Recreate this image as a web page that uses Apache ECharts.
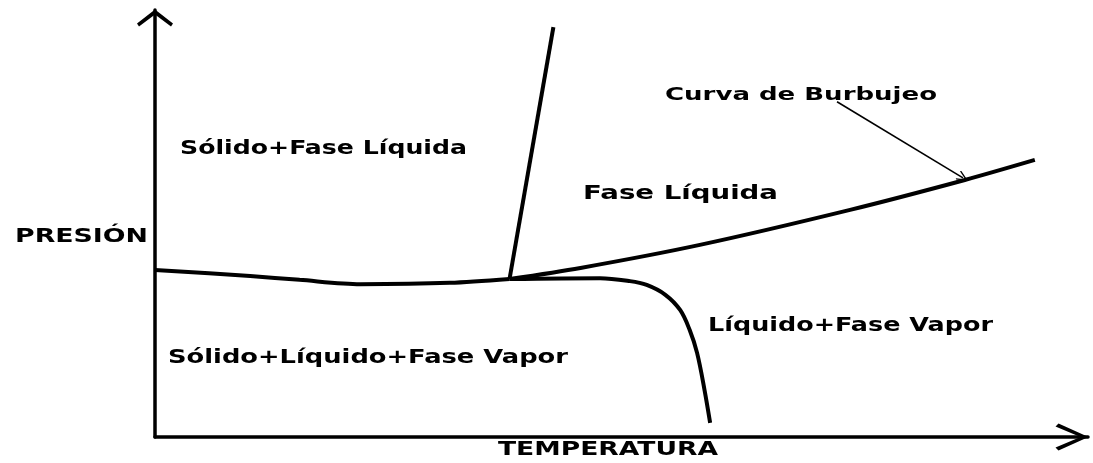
<!DOCTYPE html>
<html>
<head>
<meta charset="utf-8">
<script src="https://cdn.jsdelivr.net/npm/echarts@6/dist/echarts.min.js"></script>
<style>
  html, body { margin: 0; padding: 0; background: #fff; }
  #main { width: 1093px; height: 463px; }
</style>
</head>
<body>
<div id="main"></div>
<script>
// curvas del diagrama [temperatura, presion] (escala 0-100)
const curvaInferior = [[0, 39.1], [10.2, 37.7], [15.5, 36.8], [22.0, 35.8], [31.6, 36.1], [38.0, 37.0]];
const curvaSolidoLiquido = [[38.0, 37.0], [42.7, 96.0]];
const curvaBurbujeo = [[38.0, 37.0], [45.6, 39.6], [58.4, 45.0], [74.5, 53.2], [86.8, 60.2], [94.3, 64.9]];
const curvaVapor = [[38.0, 37.0], [47.7, 37.2], [50.9, 36.5], [52.7, 35.6], [54.7, 33.3], [56.3, 29.7],
  [57.3, 25.1], [58.1, 19.7], [58.9, 11.0], [59.5, 3.3]];
const flechaBurbujeo = [[73.1, 78.5], [86.6, 60.7]];

// textos: [texto, x izq, y centro, ancho, tamaño]
const etiquetas = [
  ['Curva de Burbujeo', 665, 95, 272, 18],
  ['Sólido+Fase Líquida', 180, 149, 287, 19],
  ['Fase Líquida', 583, 194, 195, 19],
  ['PRESIÓN', 15, 237, 133, 20],
  ['Líquido+Fase Vapor', 708, 326, 285, 19],
  ['Sólido+Líquido+Fase Vapor', 168, 358, 400, 19],
  ['TEMPERATURA', 498, 450, 220, 19]
];

const ctx = document.createElement('canvas').getContext('2d');
function escala(txt, size, ancho) {
  ctx.font = 'bold ' + size + 'px "DejaVu Sans"';
  return ancho / ctx.measureText(txt).width;
}

const flechaArriba = 'path://M18,0 L36,14 L34,17 L18,5 L2,17 L0,14 Z';
const flechaDerecha = 'path://M13.5,0 L27,30 L24,33 L13.5,8 L3,33 L0,30 Z';

const linea = { color: '#000', width: 4 };

const chart = echarts.init(document.getElementById('main'));
chart.setOption({
  animation: false,
  backgroundColor: '#fff',
  grid: { left: 155, right: 5, top: 10, bottom: 26 },
  xAxis: {
    type: 'value', min: 0, max: 100,
    splitLine: { show: false }, axisTick: { show: false }, axisLabel: { show: false },
    axisLine: { onZero: false, symbol: ['none', flechaDerecha], symbolSize: [27, 33], symbolOffset: [0, -16], lineStyle: { color: '#000', width: 3.5 } }
  },
  yAxis: {
    type: 'value', min: 0, max: 100,
    splitLine: { show: false }, axisTick: { show: false }, axisLabel: { show: false },
    axisLine: { show: true, onZero: false, symbol: ['none', flechaArriba], symbolSize: [36, 17], symbolOffset: [0, -8], lineStyle: { color: '#000', width: 3.5 } }
  },
  series: [
    { type: 'line', data: curvaInferior, showSymbol: false, smooth: 0.3, lineStyle: linea },
    { type: 'line', data: curvaSolidoLiquido, showSymbol: false, lineStyle: linea },
    {
      type: 'line', data: curvaBurbujeo, showSymbol: false, smooth: 0.3, lineStyle: linea,
      markLine: {
        silent: true,
        symbol: ['none', 'path://M0,0 L5,10 L4,11 L0,3 L-4,11 L-5,10 Z'],
        symbolSize: [10, 12],
        label: { show: false },
        lineStyle: { color: '#000', width: 1.6, type: 'solid' },
        data: [[{ coord: flechaBurbujeo[0] }, { coord: flechaBurbujeo[1] }]]
      }
    },
    { type: 'line', data: curvaVapor, showSymbol: false, smooth: 0.35, lineStyle: linea }
  ],
  graphic: etiquetas.map(function (e) {
    return {
      type: 'text', x: e[1], y: e[2], scaleX: escala(e[0], e[4], e[3]),
      style: { text: e[0], font: 'bold ' + e[4] + 'px "DejaVu Sans"', fill: '#000', align: 'left', verticalAlign: 'middle' }
    };
  })
});
</script>
</body>
</html>
